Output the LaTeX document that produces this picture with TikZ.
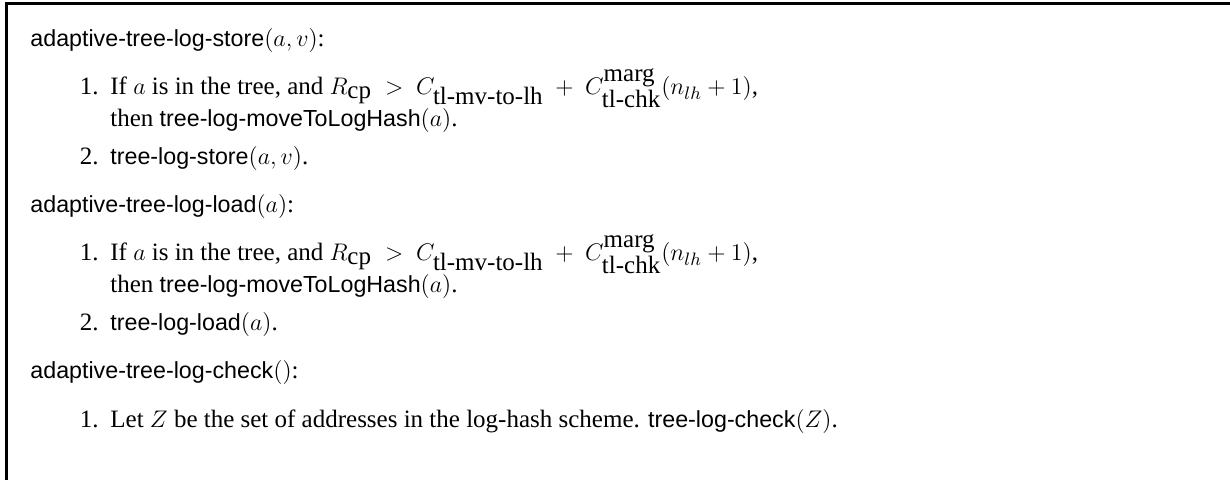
\documentclass[tikz,border=0pt]{standalone}
\usepackage{fontspec}
\setmainfont{Liberation Serif}
\setsansfont{Liberation Sans}[Scale=0.93]
\newcommand\fname[1]{\textsf{#1}}
\newcommand\movecond{If $a$ is in the tree, and $R_{\mbox{cp}}\ >\ C_{\mbox{tl-mv-to-lh}}\ +\ C^{\mbox{marg}}_{\mbox{tl-chk}}(n_{lh}+1)$,}
\tikzset{
  txt/.style={anchor=base west, inner sep=0pt, font=\fontsize{12.5}{15}\selectfont},
  num/.style={txt, anchor=base east},
  frame/.style={line width=1.5pt, line join=miter},
}
\begin{document}
\begin{tikzpicture}[x=0.5pt, y=-0.5pt]
  \useasboundingbox (0,0) rectangle (1230,480);
  % open frame: left and top rules
  \draw[frame] (6.5,480) -- (6.5,4) -- (1240,4);

  % store
  \node[txt] (h1) at (30,47) {\fname{adaptive-tree-log-store}$(a,v)$:};
  \node[num] (s1n) at (99,95) {1.};
  \node[txt] (s1a) at (110,95) {\movecond};
  \node[txt] (s1b) at (110,127) {then \fname{tree-log-moveToLogHash}$(a)$.};
  \node[num] (s2n) at (99,165) {2.};
  \node[txt] (s2) at (110,165) {\fname{tree-log-store}$(a,v)$.};

  % load
  \node[txt] (h2) at (30,213) {\fname{adaptive-tree-log-load}$(a)$:};
  \node[num] (l1n) at (99,261) {1.};
  \node[txt] (l1a) at (110,261) {\movecond};
  \node[txt] (l1b) at (110,293) {then \fname{tree-log-moveToLogHash}$(a)$.};
  \node[num] (l2n) at (99,331) {2.};
  \node[txt] (l2) at (110,331) {\fname{tree-log-load}$(a)$.};

  % check
  \node[txt] (h3) at (30,379) {\fname{adaptive-tree-log-check}$()$:};
  \node[num] (c1n) at (99,427) {1.};
  \node[txt] (c1) at (110,427) {Let $Z$ be the set of addresses in the log-hash scheme. \fname{tree-log-check}$(Z)$.};
\end{tikzpicture}
\end{document}
